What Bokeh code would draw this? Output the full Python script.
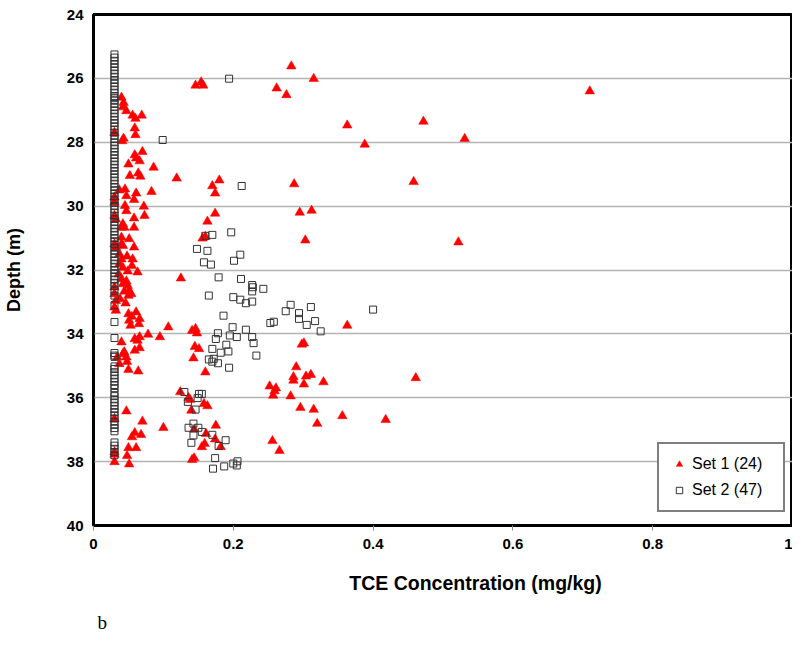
from bokeh.plotting import figure
from bokeh.models import Range1d, FixedTicker, Legend, LegendItem, Title
from bokeh.embed import file_html
from bokeh.resources import INLINE

# ---------------- data ----------------
x_ticks = [0, 0.2, 0.4, 0.6, 0.8, 1]
x_tick_labels = ["0", "0.2", "0.4", "0.6", "0.8", "1"]
y_ticks = [24, 26, 28, 30, 32, 34, 36, 38, 40]

set1_label = "Set 1 (24)"
set2_label = "Set 2 (47)"

set1_conc = [
    0.040, 0.043, 0.042, 0.047, 0.056, 0.060, 0.069, 0.059, 0.060, 0.043, 0.041, 0.030,
    0.070, 0.059, 0.061, 0.066, 0.050, 0.086, 0.052, 0.064, 0.067, 0.119, 0.170, 0.180, 0.174,
    0.037, 0.045, 0.047, 0.061, 0.058, 0.083, 0.030, 0.030, 0.045, 0.072, 0.146, 0.154, 0.157,
    0.073, 0.047, 0.058, 0.042, 0.040, 0.044, 0.058, 0.030, 0.032, 0.040, 0.040, 0.042, 0.051, 0.058, 0.030, 0.032,
    0.037, 0.040, 0.048, 0.056, 0.037, 0.042, 0.055, 0.049, 0.063, 0.036, 0.040, 0.047, 0.049, 0.042, 0.030,
    0.044, 0.051, 0.054, 0.050, 0.030, 0.032, 0.038, 0.046, 0.030, 0.032, 0.061, 0.050, 0.055, 0.051, 0.066, 0.065, 0.053,
    0.107, 0.078, 0.095, 0.040, 0.059, 0.066, 0.063, 0.044, 0.059, 0.066,
    0.042, 0.034, 0.047, 0.048, 0.037, 0.050, 0.064,
    0.047, 0.030, 0.070, 0.100, 0.059, 0.055, 0.068, 0.050, 0.061, 0.030, 0.030, 0.048, 0.030, 0.051,
    0.174, 0.163, 0.156, 0.160, 0.125, 0.141, 0.146, 0.148, 0.145, 0.151, 0.143, 0.160, 0.124, 0.136,
    0.138, 0.140, 0.158, 0.163, 0.175, 0.144, 0.161, 0.174, 0.159, 0.155, 0.182, 0.141, 0.144,
    0.283, 0.315, 0.262, 0.276, 0.363, 0.472, 0.388, 0.287, 0.458, 0.295, 0.312, 0.303, 0.522,
    0.710, 0.531, 0.363, 0.298, 0.301, 0.290, 0.286, 0.286, 0.304, 0.311, 0.301, 0.329, 0.461,
    0.252, 0.261, 0.259, 0.257, 0.282, 0.296, 0.315, 0.356, 0.418, 0.320, 0.256, 0.266,
]
set1_depth = [
    26.60, 26.76, 26.90, 27.02, 27.16, 27.26, 27.16, 27.56, 27.77, 27.88, 27.96, 27.70,
    28.30, 28.40, 28.50, 28.59, 28.69, 28.79, 29.05, 28.97, 29.07, 29.13, 29.37, 29.19, 29.60,
    29.50, 29.47, 29.68, 29.60, 29.80, 29.55, 29.72, 29.88, 29.99, 30.01, 26.22, 26.12, 26.22,
    30.30, 30.15, 30.38, 30.56, 30.67, 30.67, 30.67, 30.30, 30.41, 30.98, 31.19, 31.24, 31.03, 31.29, 31.19, 31.29,
    31.50, 31.66, 31.57, 31.66, 31.81, 31.92, 31.87, 32.04, 32.07, 32.13, 32.28, 32.35, 32.49, 32.44, 32.54,
    32.67, 32.65, 32.75, 32.80, 32.75, 32.96, 32.91, 33.04, 33.17, 33.27, 33.32, 33.38, 33.46, 33.58, 33.53, 33.69, 33.74,
    33.79, 34.02, 34.10, 34.26, 34.16, 34.10, 34.21, 34.57, 34.52, 34.44,
    34.63, 34.73, 34.73, 34.87, 34.94, 35.12, 35.17,
    36.42, 36.66, 36.74, 36.94, 37.10, 37.23, 37.16, 37.57, 37.57, 37.78, 37.70, 37.82, 38.01, 38.08,
    30.23, 30.48, 31.01, 30.96, 32.26, 33.90, 33.84, 33.98, 34.40, 34.47, 34.76, 35.20, 35.82, 36.00,
    36.06, 36.40, 36.19, 36.26, 36.87, 36.99, 37.13, 37.30, 37.44, 37.54, 37.54, 37.94, 37.89,
    25.62, 26.01, 26.31, 26.52, 27.47, 27.35, 28.07, 29.31, 29.24, 30.20, 30.14, 31.07, 31.13,
    26.40, 27.89, 33.74, 34.33, 34.29, 35.04, 35.35, 35.46, 35.33, 35.28, 35.58, 35.51, 35.38,
    35.64, 35.70, 35.79, 35.93, 35.95, 36.31, 36.37, 36.57, 36.69, 36.81, 37.35, 37.66,
]

set2_conc = [
    0.194, 0.099, 0.212, 0.160, 0.170, 0.197, 0.148, 0.163, 0.158, 0.168, 0.201, 0.210,
    0.179, 0.211, 0.227, 0.228, 0.227, 0.243, 0.165, 0.200, 0.210, 0.218, 0.227,
    0.275, 0.282, 0.294, 0.311, 0.294, 0.305, 0.317, 0.325, 0.253, 0.258, 0.400,
    0.186, 0.199, 0.218, 0.195, 0.205, 0.227, 0.229, 0.233, 0.178, 0.175, 0.190, 0.193,
    0.170, 0.182, 0.172, 0.165, 0.178, 0.170, 0.194,
    0.130, 0.135, 0.151, 0.155, 0.149, 0.146, 0.143, 0.136, 0.150, 0.143, 0.155, 0.170,
    0.140, 0.179, 0.189, 0.174, 0.171, 0.187, 0.200, 0.206, 0.205,
    0.03, 0.03, 0.03, 0.03, 0.03, 0.03, 0.03, 0.03, 0.03, 0.03, 0.03, 0.03, 0.03, 0.03,
    0.03, 0.03, 0.03, 0.03, 0.03, 0.03, 0.03, 0.03, 0.03, 0.03, 0.03, 0.03, 0.03, 0.03,
    0.03, 0.03, 0.03, 0.03, 0.03, 0.03, 0.03, 0.03, 0.03, 0.03, 0.03, 0.03, 0.03, 0.03,
    0.03, 0.03, 0.03, 0.03, 0.03, 0.03, 0.03, 0.03, 0.03, 0.03, 0.03, 0.03, 0.03, 0.03,
    0.03, 0.03, 0.03, 0.03, 0.03, 0.03, 0.03, 0.03, 0.03, 0.03, 0.03, 0.03, 0.03, 0.03,
    0.03, 0.03, 0.03, 0.03, 0.03, 0.03, 0.03, 0.03, 0.03, 0.03, 0.03, 0.03, 0.03, 0.03,
    0.03, 0.03, 0.03, 0.03, 0.03, 0.03, 0.03, 0.03, 0.03, 0.03, 0.03, 0.03, 0.03, 0.03,
    0.03, 0.03, 0.03, 0.03, 0.03, 0.03, 0.03, 0.03, 0.03, 0.03,
]
set2_depth = [
    26.01, 27.93, 29.37, 30.93, 30.90, 30.82, 31.34, 31.40, 31.76, 31.83, 31.71, 31.52,
    32.23, 32.28, 32.47, 32.54, 32.67, 32.59, 32.80, 32.85, 32.93, 33.04, 32.99,
    33.29, 33.09, 33.35, 33.16, 33.53, 33.72, 33.60, 33.92, 33.66, 33.62, 33.24,
    33.43, 33.79, 33.87, 34.05, 34.10, 34.10, 34.29, 34.68, 33.98, 34.16, 34.34, 34.55,
    34.47, 34.59, 34.78, 34.80, 34.92, 34.87, 35.06,
    35.82, 36.13, 35.88, 35.88, 36.01, 36.37, 36.81, 36.94, 36.94, 37.18, 37.07, 37.16,
    37.41, 37.51, 37.33, 37.89, 38.22, 38.15, 38.06, 37.99, 38.12,
    25.25, 25.35, 25.45, 25.55, 25.65, 25.75, 25.85, 25.95, 26.05, 26.15, 26.25, 26.35, 26.45, 26.55,
    26.70, 26.80, 26.90, 27.00, 27.10, 27.20, 27.30, 27.40, 27.60, 27.70, 27.80, 27.90, 28.00, 28.10,
    28.20, 28.30, 28.40, 28.50, 28.60, 28.70, 28.80, 28.90, 29.00, 29.10, 29.20, 29.30, 29.40, 29.50,
    29.60, 29.70, 29.80, 29.90, 30.00, 30.10, 30.20, 30.30, 30.40, 30.50, 30.60, 30.70, 30.80, 30.90,
    31.00, 31.10, 31.20, 31.30, 31.40, 31.50, 31.60, 31.80, 31.90, 32.10, 32.20, 32.40, 32.50, 32.80,
    33.10, 33.63, 34.13, 34.60, 34.68, 35.10, 35.20, 35.30, 35.40, 35.50, 35.60, 35.70, 35.85, 35.95,
    36.05, 36.15, 36.25, 36.35, 36.45, 36.55, 36.65, 36.75, 36.85, 36.95, 37.05, 37.40, 37.50, 37.60,
    37.70, 37.80, 31.70, 32.00, 32.30, 32.65, 26.62, 27.50, 34.72, 35.02,
]

x_title = "TCE Concentration (mg/kg)"
y_title = "Depth (m)"

# ---------------- figure ----------------
FONT = "Liberation Sans"

p = figure(width=792, height=646,
           x_range=Range1d(0, 1), y_range=Range1d(40, 24),
           output_backend="svg", toolbar_location=None,
           min_border_left=87, min_border_top=14, min_border_right=0, min_border_bottom=121,
           background_fill_color="white", border_fill_color="white")

p.outline_line_color = "black"
p.outline_line_width = 3

p.xgrid.grid_line_color = None
p.ygrid.grid_line_color = "#b4b4b4"
p.ygrid.grid_line_width = 1.3

p.xaxis.ticker = FixedTicker(ticks=x_ticks)
p.xaxis.major_label_overrides = {t: l for t, l in zip(x_ticks, x_tick_labels)}
p.yaxis.ticker = FixedTicker(ticks=y_ticks)

for ax in (p.xaxis[0], p.yaxis[0]):
    ax.axis_line_color = "black"
    ax.axis_line_width = 2
    ax.minor_tick_line_color = None
    ax.major_label_text_font = FONT
    ax.major_label_text_font_style = "bold"
    ax.major_label_text_font_size = "15px"
    ax.major_label_text_color = "black"
    ax.axis_label_text_font = FONT
    ax.axis_label_text_font_style = "bold"
    ax.axis_label_text_color = "black"

p.xaxis.major_tick_out = 5
p.xaxis.major_tick_in = 0
p.xaxis.major_tick_line_color = "#8c8c8c"
p.xaxis.major_label_standoff = 8
# the original title sits right of the plot-area centre: pad it with no-break spaces
p.xaxis.axis_label = "\u00a0" * 12 + x_title
p.xaxis.axis_label_text_font_size = "19.5px"
p.xaxis.axis_label_standoff = 20

p.yaxis.major_tick_out = 0
p.yaxis.major_tick_in = 0
p.yaxis.major_label_standoff = 10
p.yaxis.axis_label = y_title
p.yaxis.axis_label_text_font_size = "18px"
p.yaxis.axis_label_standoff = 40

r1 = p.scatter(set1_conc, set1_depth, marker="triangle", size=9.5,
               fill_color="#ff0000", line_color="#ff0000", line_width=0.5)
r2 = p.scatter(set2_conc, set2_depth, marker="square", size=7,
               fill_color=None, line_color="#333333", line_width=1)

legend = Legend(items=[LegendItem(label=set1_label, renderers=[r1]),
                       LegendItem(label=set2_label, renderers=[r2])],
                location=(564, 13), orientation="vertical",
                border_line_color="black", border_line_width=2,
                background_fill_color="white", background_fill_alpha=1,
                padding=11, spacing=8, margin=0,
                glyph_width=18, glyph_height=16, label_standoff=4,
                label_height=16, label_width=80,
                label_text_font=FONT, label_text_font_size="16px",
                label_text_color="black")
p.add_layout(legend)

p.add_layout(Title(text="b", align="left", offset=4, standoff=27,
                   text_font="Liberation Serif", text_font_size="19px",
                   text_font_style="normal", text_color="black"), "below")

open("out.html", "w").write(file_html(p, INLINE))
